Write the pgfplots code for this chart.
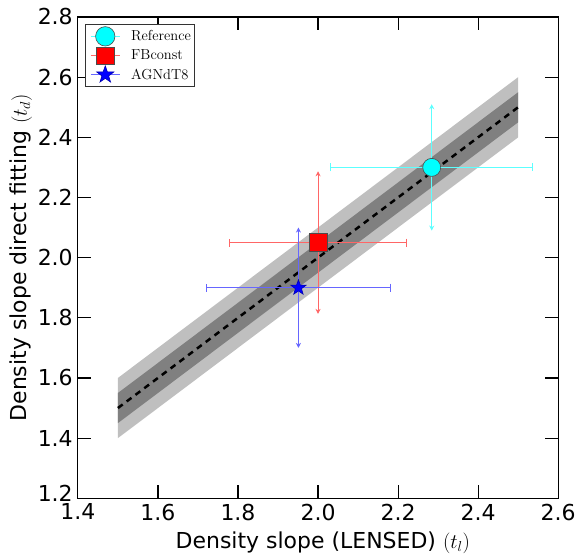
\documentclass[border=0pt]{standalone}
\usepackage{pgfplots}
\pgfplotsset{compat=1.18}
\usepackage{fontspec}
\newfontfamily\dejavu{DejaVu Sans}
\usetikzlibrary{arrows.meta}
\definecolor{lgray}{HTML}{BFBFBF}
\definecolor{dgray}{HTML}{808080}
\definecolor{cy}{HTML}{00FFFF}
\definecolor{rd}{HTML}{FF0000}
\definecolor{bl}{HTML}{0000FF}
\definecolor{cyE}{HTML}{5CFFFF}
\definecolor{rdE}{HTML}{FF6666}
\definecolor{blE}{HTML}{6666FF}
\pgfdeclareplotmark{fivestar}{%
  \pgfpathmoveto{\pgfpointpolar{90}{\pgfplotmarksize}}%
  \pgfpathlineto{\pgfpointpolar{126}{0.4\pgfplotmarksize}}%
  \pgfpathlineto{\pgfpointpolar{162}{\pgfplotmarksize}}%
  \pgfpathlineto{\pgfpointpolar{198}{0.4\pgfplotmarksize}}%
  \pgfpathlineto{\pgfpointpolar{234}{\pgfplotmarksize}}%
  \pgfpathlineto{\pgfpointpolar{270}{0.4\pgfplotmarksize}}%
  \pgfpathlineto{\pgfpointpolar{306}{\pgfplotmarksize}}%
  \pgfpathlineto{\pgfpointpolar{342}{0.4\pgfplotmarksize}}%
  \pgfpathlineto{\pgfpointpolar{18}{\pgfplotmarksize}}%
  \pgfpathlineto{\pgfpointpolar{54}{0.4\pgfplotmarksize}}%
  \pgfpathclose
  \pgfusepathqfillstroke
}
\begin{document}
\begin{tikzpicture}
\begin{axis}[
  name=ax,
  scale only axis, width=481pt, height=482pt,
  xmin=1.4, xmax=2.6, ymin=1.2, ymax=2.8,
  xtick={1.4,1.6,1.8,2.0,2.2,2.4,2.6},
  xticklabels={1.4,1.6,1.8,2.0,2.2,2.4,2.6},
  ytick={1.2,1.4,1.6,1.8,2.0,2.2,2.4,2.6,2.8},
  yticklabels={\raisebox{9pt}{1.2},1.4,1.6,1.8,2.0,2.2,2.4,2.6,2.8},
  tick align=inside, major tick length=13pt,
  tick style={black, line width=1.2pt},
  axis line style={line width=1.2pt},
  xtick pos=both, ytick pos=both,
  ticklabel style={font=\dejavu\fontsize{22}{24}\selectfont},
  xticklabel style={inner ysep=5.5pt},
  yticklabel style={inner xsep=5pt},
  xlabel={\dejavu\fontsize{22}{24}\selectfont Density slope (LENSED) $(t_l)$},
  ylabel={\dejavu\fontsize{22}{24}\selectfont Density slope direct fitting $(t_d)$},
  xlabel style={at={(axis description cs:0.51,-0.1037)}, anchor=base},
  ylabel style={at={(axis description cs:-0.118,0.5)}, anchor=center},
  legend style={at={(axis description cs:0.0146,0.9855)}, anchor=north west, draw=black!80, line width=0.8pt,
    font=\fontsize{14.5}{17}\selectfont, row sep=0pt, inner xsep=2pt, inner ysep=2pt},
  legend cell align=left,
]
\addplot[fill=lgray, draw=none, forget plot] coordinates {(1.5,1.4) (2.5,2.4) (2.5,2.6) (1.5,1.6)} -- cycle;
\addplot[fill=dgray, draw=none, forget plot] coordinates {(1.5,1.45) (2.5,2.45) (2.5,2.55) (1.5,1.55)} -- cycle;
\addplot[black, line width=2.5pt, dash pattern=on 6pt off 5pt, forget plot] coordinates {(1.5,1.5) (2.5,2.5)};

% Reference error bars
\addplot[forget plot, only marks, mark=none, error bars/.cd, x dir=both, x explicit,
  error bar style={cyE, line width=1pt}, error mark=|,
  error mark options={cyE, mark size=4pt, line width=1pt}]
  coordinates {(2.284,2.30) +- (0.252,0)};
\addplot[forget plot, only marks, mark=none, error bars/.cd, y dir=both, y explicit,
  error bar style={cyE, line width=1pt, {Stealth[length=5pt,width=5pt]}-{Stealth[length=5pt,width=5pt]}}, error mark=none]
  coordinates {(2.284,2.30) +- (0,0.21)};
% FBconst error bars
\addplot[forget plot, only marks, mark=none, error bars/.cd, x dir=both, x explicit,
  error bar style={rdE, line width=1pt}, error mark=|,
  error mark options={rdE, mark size=4pt, line width=1pt}]
  coordinates {(2.0,2.05) +- (0.22,0)};
\addplot[forget plot, only marks, mark=none, error bars/.cd, y dir=both, y explicit,
  error bar style={rdE, line width=1pt, {Stealth[length=5pt,width=5pt]}-{Stealth[length=5pt,width=5pt]}}, error mark=none]
  coordinates {(2.0,2.05) +- (0,0.237)};
% AGNdT8 error bars
\addplot[forget plot, only marks, mark=none, error bars/.cd, x dir=both, x explicit,
  error bar style={blE, line width=1pt}, error mark=|,
  error mark options={blE, mark size=4pt, line width=1pt}]
  coordinates {(1.951,1.90) +- (0.23,0)};
\addplot[forget plot, only marks, mark=none, error bars/.cd, y dir=both, y explicit,
  error bar style={blE, line width=1pt, {Stealth[length=5pt,width=5pt]}-{Stealth[length=5pt,width=5pt]}}, error mark=none]
  coordinates {(1.951,1.90) +- (0,0.20)};

\addplot[only marks, mark=*, mark size=9pt, mark options={fill=cy, draw=black!70, line width=0.6pt},
  legend image code/.code={\path[draw=none,fill=none] (-18pt,-9.5pt) rectangle (24pt,9.5pt); \draw[cyE, line width=1pt] (-14.5pt,0pt) -- (15pt,0pt);
    \filldraw[fill=cy, draw=black!70, line width=0.6pt] (0pt,0pt) circle (9.7pt);}]
  coordinates {(2.284,2.30)};
\addlegendentry{Reference}
\addplot[only marks, mark=square*, mark size=9pt, mark options={fill=rd, draw=black!70, line width=0.6pt},
  legend image code/.code={\path[draw=none,fill=none] (-18pt,-9.5pt) rectangle (24pt,9.5pt); \draw[rdE, line width=1pt] (-14.5pt,0pt) -- (15pt,0pt);
    \filldraw[fill=rd, draw=black!70, line width=0.6pt] (-9pt,-9pt) rectangle (9pt,9pt);}]
  coordinates {(2.0,2.05)};
\addlegendentry{FBconst}
\addplot[only marks, mark=fivestar, mark size=8pt, mark options={fill=bl, draw=bl!70!black, line width=0.6pt},
  legend image code/.code={\path[draw=none,fill=none] (-18pt,-9.5pt) rectangle (24pt,9.5pt); \draw[blE, line width=1pt] (-14.5pt,0pt) -- (15pt,0pt);
    \begin{scope}[fill=bl, draw=bl!70!black, line width=0.6pt]\pgfsetplotmarksize{9pt}\pgfuseplotmark{fivestar}\end{scope}}]
  coordinates {(1.951,1.90)};
\addlegendentry{AGNdT8}
\end{axis}
\path (ax.south west) ++(-78pt,-56pt) rectangle ++(579pt,555pt);
\end{tikzpicture}
\end{document}
